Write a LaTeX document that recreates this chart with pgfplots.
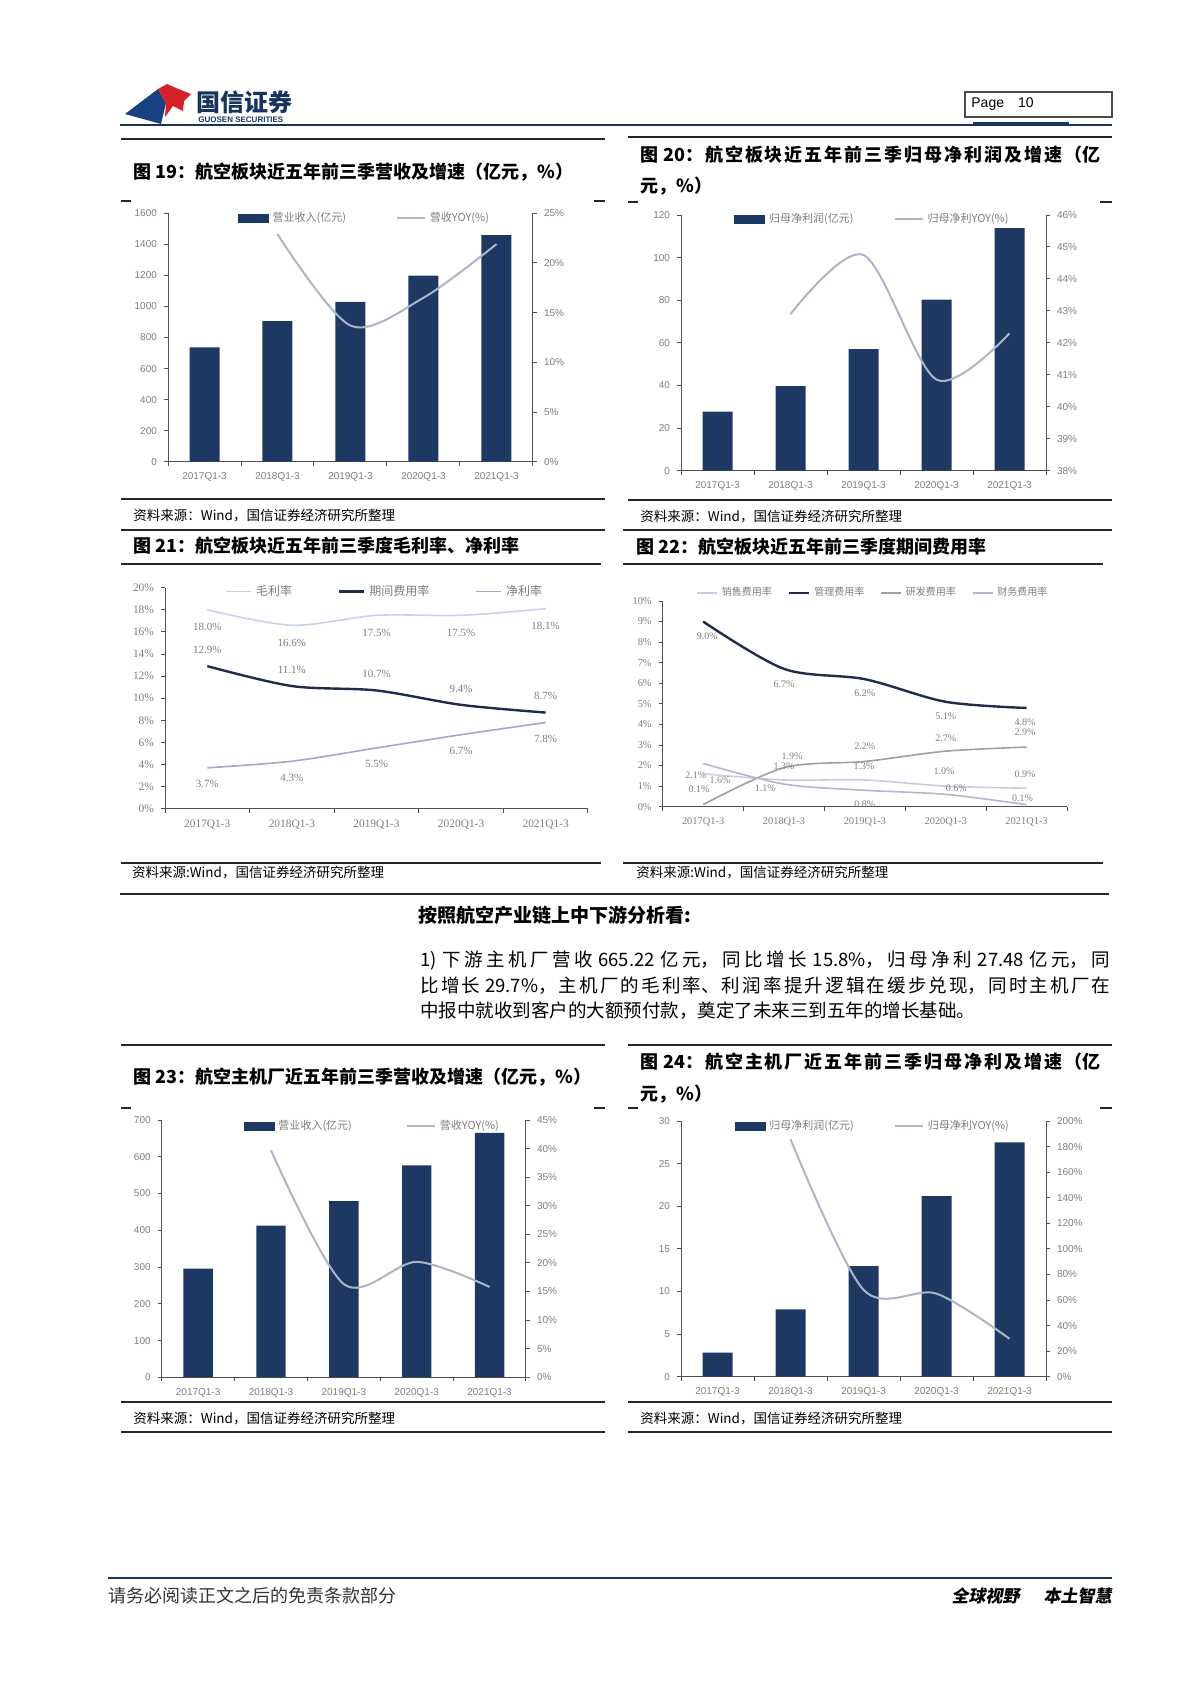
\documentclass[border=0pt]{standalone}
\usepackage{fontspec}
\usepackage{pgfplots}
\pgfplotsset{compat=1.18}
\setmainfont{Liberation Sans}
\newfontfamily\cjk{Noto Sans CJK SC}
\newfontfamily\cjksl{Noto Sans CJK SC}[FakeSlant=0.18]
\newfontfamily\sertxt{Liberation Serif}
\XeTeXlinebreaklocale "zh"
\XeTeXlinebreakskip=0pt plus 3pt
\definecolor{navy}{RGB}{30,56,100}
\definecolor{hdrnavy}{RGB}{22,52,92}
\definecolor{yoy}{RGB}{172,181,198}
\definecolor{tk}{RGB}{125,125,125}
\definecolor{axln}{RGB}{80,80,80}
\definecolor{gm}{RGB}{198,210,232}
\definecolor{qj}{RGB}{32,44,78}
\definecolor{jl}{RGB}{166,166,198}
\definecolor{xs}{RGB}{196,206,226}
\definecolor{yf}{RGB}{158,158,166}
\definecolor{cw}{RGB}{180,180,208}
\definecolor{logored}{RGB}{214,32,42}
\definecolor{logoblue}{RGB}{24,66,130}
\pgfplotsset{
  base/.style={
    scale only axis, clip=false,
    xmin=-0.5, xmax=4.5,
    xtick={0,1,2,3,4},
    xticklabels={2017Q1-3,2018Q1-3,2019Q1-3,2020Q1-3,2021Q1-3},
    minor xtick={-0.5,0.5,1.5,2.5,3.5,4.5},
    major x tick style={draw=none},
    tick align=outside,
    major tick length=2pt, minor tick length=2pt,
    axis line style={axln, line width=0.5pt},
    tick style={axln, line width=0.5pt},
    ticklabel style={text=tk, font=\fontsize{5}{5}\selectfont},
    /pgf/number format/assume math mode=true,
    /pgf/number format/1000 sep={},
    legend image code/.code={\draw[#1] (0pt,0pt) -- (14pt,0pt);},
  },
  leftbar/.style={base, axis x line*=bottom, axis y line*=left},
  rightline/.style={base, axis x line=none, axis y line*=right,
     yticklabel={\pgfmathprintnumber{\tick}\%}},
  barleg/.style={legend columns=2,
     legend style={draw=none, fill=none, inner sep=0pt, anchor=west,
       font=\cjk\fontsize{5.5}{5.5}\selectfont, nodes={text=tk},
       /tikz/every even column/.append style={column sep=#1}}},
  lbl/.style={draw=none, mark=none,
     nodes near coords={\pgfplotspointmeta\%}, point meta=explicit symbolic,
     every node near coord/.append style={anchor=center, inner sep=0pt, text=tk, font=#1}},
}
\begin{document}
\begin{tikzpicture}
\useasboundingbox (0,0) rectangle (600pt,-849pt);

% ---------------- Chart 19 ----------------
\begin{axis}[leftbar, at={(84pt,-230.85pt)}, anchor=south west, width=182.5pt, height=124.2pt,
  ymin=0, ymax=1600, ytick={0,200,...,1600}]
\addplot[ybar, bar width=15pt, fill=navy, draw=none] coordinates {(0,737) (1,906) (2,1029) (3,1198) (4,1460)};
\end{axis}
\begin{axis}[rightline, at={(84pt,-230.85pt)}, anchor=south west, width=182.5pt, height=124.2pt,
  ymin=0, ymax=25, ytick={0,5,...,25}, barleg=23pt, legend style={at={(0.19,0.981)}}]
\addlegendimage{legend image code/.code={\fill[navy] (0pt,-2pt) rectangle (15pt,2pt);}}
\addlegendentry{营业收入(亿元)}
\addplot[yoy, line width=1pt, smooth] coordinates {(1,22.9) (2,13.7) (3,16.5) (4,21.9)};
\addlegendentry{营收YOY(\%)}
\end{axis}

% ---------------- Chart 20 ----------------
\begin{axis}[leftbar, at={(340.5pt,-235.35pt)}, anchor=south west, width=182.5pt, height=127.85pt,
  ymin=0, ymax=120, ytick={0,20,...,120}]
\addplot[ybar, bar width=15pt, fill=navy, draw=none] coordinates {(0,27.7) (1,39.7) (2,57.1) (3,80.3) (4,113.9)};
\end{axis}
\begin{axis}[rightline, at={(340.5pt,-235.35pt)}, anchor=south west, width=182.5pt, height=127.85pt,
  ymin=38, ymax=46, ytick={38,39,...,46}, barleg=18pt, legend style={at={(0.145,0.984)}}]
\addlegendimage{legend image code/.code={\fill[navy] (0pt,-2pt) rectangle (15pt,2pt);}}
\addlegendentry{归母净利润(亿元)}
\addplot[yoy, line width=1pt, smooth] coordinates {(1,42.9) (2,44.75) (3,40.85) (4,42.3)};
\addlegendentry{归母净利YOY(\%)}
\end{axis}

% ---------------- Chart 21 ----------------
\begin{axis}[leftbar, at={(82.5pt,-404.35pt)}, anchor=south west, width=211.5pt, height=110.5pt,
  ymin=0, ymax=20, ytick={0,2,...,20}, yticklabel={\pgfmathprintnumber{\tick}\%},
  ticklabel style={font=\sertxt\fontsize{5.7}{5.7}\selectfont},
  legend columns=3,
  legend image code/.code={\draw[#1] (0pt,0pt) -- (12.5pt,0pt);},
  legend style={draw=none, fill=none, inner sep=0pt, anchor=west, at={(0.142,0.982)},
     font=\cjk\fontsize{6}{6}\selectfont, nodes={text=tk},
     /tikz/every even column/.append style={column sep=21pt}}]
\addplot[gm, line width=0.8pt, smooth] coordinates {(0,18.0) (1,16.6) (2,17.5) (3,17.5) (4,18.1)};
\addlegendentry{毛利率}
\addplot[qj, line width=1.2pt, smooth] coordinates {(0,12.9) (1,11.1) (2,10.7) (3,9.4) (4,8.7)};
\addlegendentry{期间费用率}
\addplot[jl, line width=0.8pt, smooth] coordinates {(0,3.7) (1,4.3) (2,5.5) (3,6.7) (4,7.8)};
\addlegendentry{净利率}
\addplot[lbl={\sertxt\fontsize{5.5}{5.5}\selectfont}] table[meta=m, row sep=\\] {
x y m\\
0 16.41 18.0\\ 1 15.02 16.6\\ 2 15.93 17.5\\ 3 15.93 17.5\\ 4 16.53 18.1\\
0 14.36 12.9\\ 1 12.55 11.1\\ 2 12.16 10.7\\ 3 10.83 9.4\\ 4 10.20 8.7\\
0 2.20 3.7\\ 1 2.81 4.3\\ 2 4.01 5.5\\ 3 5.22 6.7\\ 4 6.30 7.8\\
};
\end{axis}

% ---------------- Chart 22 ----------------
\begin{axis}[leftbar, at={(331.35pt,-403.35pt)}, anchor=south west, width=202.15pt, height=102.85pt,
  ymin=0, ymax=10, ytick={0,1,...,10}, yticklabel={\pgfmathprintnumber{\tick}\%},
  ticklabel style={font=\sertxt\fontsize{5.2}{5.2}\selectfont},
  legend columns=4,
  legend image code/.code={\draw[#1] (0pt,0pt) -- (10pt,0pt);},
  legend style={draw=none, fill=none, inner sep=0pt, anchor=west, at={(0.082,1.04)},
     font=\cjk\fontsize{5}{5}\selectfont, nodes={text=tk},
     /tikz/every even column/.append style={column sep=6pt}}]
\addplot[xs, line width=0.8pt, smooth] coordinates {(0,1.6) (1,1.3) (2,1.3) (3,1.0) (4,0.9)};
\addlegendentry{销售费用率}
\addplot[qj, line width=1.2pt, smooth] coordinates {(0,9.0) (1,6.7) (2,6.2) (3,5.1) (4,4.8)};
\addlegendentry{管理费用率}
\addplot[yf, line width=0.8pt, smooth] coordinates {(0,0.1) (1,1.9) (2,2.2) (3,2.7) (4,2.9)};
\addlegendentry{研发费用率}
\addplot[cw, line width=0.8pt, smooth] coordinates {(0,2.1) (1,1.1) (2,0.8) (3,0.6) (4,0.1)};
\addlegendentry{财务费用率}
\addplot[lbl={\sertxt\fontsize{5}{5}\selectfont}] table[meta=m, row sep=\\] {
x y m\\
0.05 8.27 9.0\\ 1 5.95 6.7\\ 2 5.51 6.2\\ 3 4.38 5.1\\ 3.98 4.10 4.8\\
-0.05 0.84 0.1\\ 1.1 2.45 1.9\\ 2 2.95 2.2\\ 3 3.32 2.7\\ 3.98 3.63 2.9\\
0.21 1.30 1.6\\ 1.0 1.98 1.3\\ 1.99 1.98 1.3\\ 2.98 1.70 1.0\\ 3.98 1.59 0.9\\
-0.09 1.54 2.1\\ 0.77 0.89 1.1\\ 2 0.13 0.8\\ 3.13 0.89 0.6\\ 3.95 0.41 0.1\\
};
\end{axis}

% ---------------- Chart 23 ----------------
\begin{axis}[leftbar, at={(80.85pt,-688.65pt)}, anchor=south west, width=182.15pt, height=128.65pt,
  ymin=0, ymax=700, ytick={0,100,...,700}]
\addplot[ybar, bar width=14.7pt, fill=navy, draw=none] coordinates {(0,295.6) (1,412.5) (2,479.6) (3,576.6) (4,665.22)};
\end{axis}
\begin{axis}[rightline, at={(80.85pt,-688.65pt)}, anchor=south west, width=182.15pt, height=128.65pt,
  ymin=0, ymax=45, ytick={0,5,...,45}, barleg=25pt, legend style={at={(0.224,0.977)}}]
\addlegendimage{legend image code/.code={\fill[navy] (0pt,-2pt) rectangle (15pt,2pt);}}
\addlegendentry{营业收入(亿元)}
\addplot[yoy, line width=1pt, smooth] coordinates {(1,39.7) (2,16.3) (3,20.2) (4,15.8)};
\addlegendentry{营收YOY(\%)}
\end{axis}

% ---------------- Chart 24 ----------------
\begin{axis}[leftbar, at={(340.5pt,-688.35pt)}, anchor=south west, width=182.5pt, height=127.85pt,
  ymin=0, ymax=30, ytick={0,5,...,30}]
\addplot[ybar, bar width=15pt, fill=navy, draw=none] coordinates {(0,2.82) (1,7.9) (2,12.98) (3,21.2) (4,27.48)};
\end{axis}
\begin{axis}[rightline, at={(340.5pt,-688.35pt)}, anchor=south west, width=182.5pt, height=127.85pt,
  ymin=0, ymax=200, ytick={0,20,...,200}, barleg=18pt, legend style={at={(0.146,0.98)}}]
\addlegendimage{legend image code/.code={\fill[navy] (0pt,-2pt) rectangle (15pt,2pt);}}
\addlegendentry{归母净利润(亿元)}
\addplot[yoy, line width=1pt, smooth] coordinates {(1,185.7) (2,68) (3,65) (4,29.7)};
\addlegendentry{归母净利YOY(\%)}
\end{axis}

% ---------------- Page decorations ----------------
\begin{scope}[x=0.5pt,y=-0.5pt]
% header
\fill[logoblue] (125,114) -- (158,89) -- (166,103) -- (161,124) -- cycle;
\fill[logored] (158,89) -- (167,84) -- (176,88) -- (191,94) -- (184,101) -- (183,111) -- (173,106) -- (165,117) -- (166,103) -- cycle;
\node[anchor=west, inner sep=0pt, text=hdrnavy, font=\cjk\bfseries\fontsize{12}{12}\selectfont] at (196,102) {国信证券};
\node[anchor=west, inner sep=0pt, text=hdrnavy, font=\bfseries\fontsize{4}{4}\selectfont] at (198,119.5) {GUOSEN SECURITIES};
\draw[hdrnavy, line width=1.3pt] (120,125) -- (1112,125);
\fill[hdrnavy] (973,121.5) rectangle (1069,126);
\draw[black!70, line width=0.6pt] (965,92) rectangle (1112,117);
\node[anchor=west, inner sep=0pt, font=\fontsize{7}{7}\selectfont] at (971,104.5) {Page\hspace{7pt}10};

\begin{scope}[black!85, line width=0.8pt]
% row 1
\draw (121,139) -- (605,139);
\draw (628,137) -- (1112,137);
\draw (121,201) -- (131,201); \draw (594,201) -- (605,201);
\draw (628,202) -- (638,202); \draw (1100,202) -- (1112,202);
\draw (121,499) -- (605,499);
\draw (628,500) -- (1112,500);
\draw (121,530) -- (605,530);
\draw (623,530) -- (1112,530);
% row 2
\draw (121,564) -- (601,564);
\draw (623,564) -- (1103,564);
\draw (121,862.7) -- (601,862.7);
\draw (623,862.7) -- (1103,862.7);
\draw (120,894) -- (1109,894);
% row 3
\draw (121,1045) -- (605,1045);
\draw (628,1045) -- (1112,1045);
\draw (121,1108) -- (131,1108); \draw (594,1108) -- (605,1108);
\draw (628,1108) -- (638,1108); \draw (1100,1108) -- (1112,1108);
\draw (121,1401.7) -- (605,1401.7);
\draw (628,1401.7) -- (1112,1401.7);
\draw (121,1432) -- (605,1432);
\draw (628,1432) -- (1112,1432);
\end{scope}

% titles
\node[anchor=west, inner sep=0pt, font=\cjk\bfseries\fontsize{9}{9}\selectfont] at (133,171.7) {图 19：航空板块近五年前三季营收及增速（亿元，\%）};
\node[anchor=north west, inner sep=0pt, text width=230pt, align=justify, font=\cjk\bfseries\fontsize{9}{15.5}\selectfont] at (640,146) {图 20：航空板块近五年前三季归母净利润及增速（亿\linebreak 元，\%）};
\node[anchor=west, inner sep=0pt, font=\cjk\bfseries\fontsize{9}{9}\selectfont] at (133,546) {图 21：航空板块近五年前三季度毛利率、净利率};
\node[anchor=west, inner sep=0pt, font=\cjk\bfseries\fontsize{9}{9}\selectfont] at (636,546.7) {图 22：航空板块近五年前三季度期间费用率};
\node[anchor=west, inner sep=0pt, font=\cjk\bfseries\fontsize{9}{9}\selectfont] at (133,1077) {图 23：航空主机厂近五年前三季营收及增速（亿元，\%）};
\node[anchor=north west, inner sep=0pt, text width=230pt, align=justify, font=\cjk\bfseries\fontsize{9}{15.65}\selectfont] at (640,1052.7) {图 24：航空主机厂近五年前三季归母净利及增速（亿\linebreak 元，\%）};

% sources
\begin{scope}[every node/.style={anchor=west, inner sep=0pt, font=\cjk\fontsize{6.75}{6.75}\selectfont}]
\node at (133,515.7) {资料来源：Wind，国信证券经济研究所整理};
\node at (640,516) {资料来源：Wind，国信证券经济研究所整理};
\node at (131.7,872.7) {资料来源:Wind，国信证券经济研究所整理};
\node at (636,872.7) {资料来源:Wind，国信证券经济研究所整理};
\node at (133,1418) {资料来源：Wind，国信证券经济研究所整理};
\node at (640,1418) {资料来源：Wind，国信证券经济研究所整理};
\end{scope}

% body text
\node[anchor=west, inner sep=0pt, font=\cjk\bfseries\fontsize{9.5}{9.5}\selectfont] at (418,915) {按照航空产业链上中下游分析看:};
\node[anchor=north west, inner sep=0pt, text width=345pt, align=justify, font=\cjk\fontsize{9.25}{12.75}\selectfont] at (420,951) {1) 下游主机厂营收 665.22 亿元，同比增长 15.8\%，归母净利 27.48 亿元，同\linebreak 比增长 29.7\%，主机厂的毛利率、利润率提升逻辑在缓步兑现，同时主机厂在\linebreak 中报中就收到客户的大额预付款，奠定了未来三到五年的增长基础。};

% footer
\draw[hdrnavy, line width=1pt] (108,1578) -- (1112,1578);
\node[anchor=west, inner sep=0pt, text=black!80, font=\cjk\fontsize{9}{9}\selectfont] at (108,1596) {请务必阅读正文之后的免责条款部分};
\node[anchor=east, inner sep=0pt, font=\cjksl\bfseries\fontsize{8.5}{8.5}\selectfont] at (1112,1596) {全球视野\hspace{12pt}本土智慧};
\end{scope}
\end{tikzpicture}
\end{document}
